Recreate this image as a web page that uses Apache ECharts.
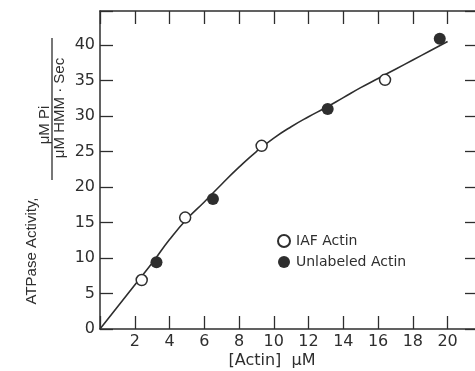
<!DOCTYPE html>
<html>
<head>
<meta charset="utf-8">
<script src="https://cdn.jsdelivr.net/npm/echarts@6/dist/echarts.min.js"></script>
<style>html,body{margin:0;padding:0;background:#fff;}#c{width:475px;height:371px;}</style>
</head>
<body>
<div id="c"></div>
<script>
// Data
const iafX = [2.4, 4.9, 9.3, 16.4];
const iafY = [6.9, 15.7, 25.8, 35.1];
const unlabX = [3.25, 6.5, 13.1, 19.55];
const unlabY = [9.4, 18.3, 31.0, 40.9];
const curveX = [0, 1, 2, 3, 4, 5, 6, 7, 8, 9, 10, 11, 12, 13, 14, 15, 16, 17, 18, 19, 20];
const curveY = [0, 3.1, 6.2, 9.3, 12.6, 15.5, 17.9, 20.4, 22.8, 25.0, 26.9, 28.5, 29.9, 31.2, 32.6, 34.0, 35.3, 36.6, 37.9, 39.2, 40.5];
const xTickLabels = ['2','4','6','8','10','12','14','16','18','20'];
const yTickLabels = ['0','5','10','15','20','25','30','35','40'];
const seriesNames = ['IAF Actin', 'Unlabeled Actin'];

const ink = '#2e2e2e';
const font = 'Liberation Sans, Arial, sans-serif';
const dfont = 'DejaVu Sans, sans-serif';
const zip = (xs, ys) => xs.map((x, i) => [x, ys[i]]);

const chart = echarts.init(document.getElementById('c'), null, {renderer: 'canvas'});
const axisLine = {show: true, onZero: false, lineStyle: {color: ink, width: 1.5}};
const tick = {show: true, inside: true, length: 13, lineStyle: {color: ink, width: 1.3}};
chart.setOption({
  backgroundColor: '#ffffff',
  animation: false,
  grid: {left: 100, top: 11, width: 378, height: 318, outerBoundsMode: 'none', containLabel: false},
  legend: {
    data: seriesNames,
    orient: 'vertical',
    left: 272, top: 229,
    itemWidth: 12, itemHeight: 12, itemGap: 7,
    icon: 'circle',
    textStyle: {fontFamily: dfont, fontSize: 14, color: ink, padding: [0, 0, 0, 1]}
  },
  xAxis: [{
    type: 'value', min: 0, max: 21.75, interval: 2, position: 'bottom',
    axisLine: axisLine, axisTick: tick, splitLine: {show: false},
    axisLabel: {color: ink, fontFamily: dfont, fontSize: 16, margin: 5,
      formatter: v => { const s = String(v); return xTickLabels.includes(s) ? s : ''; }}
  }, {
    type: 'value', min: 0, max: 21.75, interval: 2, position: 'top',
    axisLine: axisLine, axisTick: tick, splitLine: {show: false}, axisLabel: {show: false}
  }],
  yAxis: [{
    type: 'value', min: 0, max: 44.8, interval: 5, position: 'left',
    axisLine: axisLine, axisTick: tick, splitLine: {show: false},
    axisLabel: {color: ink, fontFamily: dfont, fontSize: 16, margin: 5,
      formatter: v => { const s = String(v); return yTickLabels.includes(s) ? s : ''; }}
  }, {
    type: 'value', min: 0, max: 44.8, interval: 5, position: 'right',
    axisLine: axisLine, axisTick: tick, splitLine: {show: false}, axisLabel: {show: false}
  }],
  series: [{
    type: 'line', name: 'curve', data: zip(curveX, curveY), smooth: true,
    showSymbol: false, symbol: 'none', lineStyle: {color: ink, width: 1.6}, z: 2, silent: true
  }, {
    type: 'scatter', name: seriesNames[0], data: zip(iafX, iafY), symbol: 'circle', symbolSize: 11,
    itemStyle: {color: '#ffffff', borderColor: ink, borderWidth: 1.5, opacity: 1}, z: 3
  }, {
    type: 'scatter', name: seriesNames[1], data: zip(unlabX, unlabY), symbol: 'circle', symbolSize: 12,
    itemStyle: {color: ink, borderColor: ink, borderWidth: 0, opacity: 1}, z: 3
  }],
  graphic: [
    {type: 'text', x: 32, y: 251, rotation: Math.PI / 2,
     style: {text: 'ATPase Activity,', font: '15px ' + font, fill: ink,
       align: 'center', verticalAlign: 'middle', textAlign: 'center', textVerticalAlign: 'middle'}},
    {type: 'text', x: 45, y: 125, rotation: Math.PI / 2,
     style: {text: 'μM Pi', font: '15px ' + font, fill: ink,
       align: 'center', verticalAlign: 'middle', textAlign: 'center', textVerticalAlign: 'middle'}},
    {type: 'line', shape: {x1: 52, y1: 38, x2: 52, y2: 180}, style: {stroke: ink, lineWidth: 1.3}},
    {type: 'text', x: 60, y: 108, rotation: Math.PI / 2,
     style: {text: 'μM HMM · Sec', font: '15px ' + font, fill: ink,
       align: 'center', verticalAlign: 'middle', textAlign: 'center', textVerticalAlign: 'middle'}},
    {type: 'text', x: 272, y: 361,
     style: {text: '[Actin]  μM', font: '16px ' + dfont, fill: ink,
       align: 'center', verticalAlign: 'middle', textAlign: 'center', textVerticalAlign: 'middle'}}
  ]
});
</script>
</body>
</html>
